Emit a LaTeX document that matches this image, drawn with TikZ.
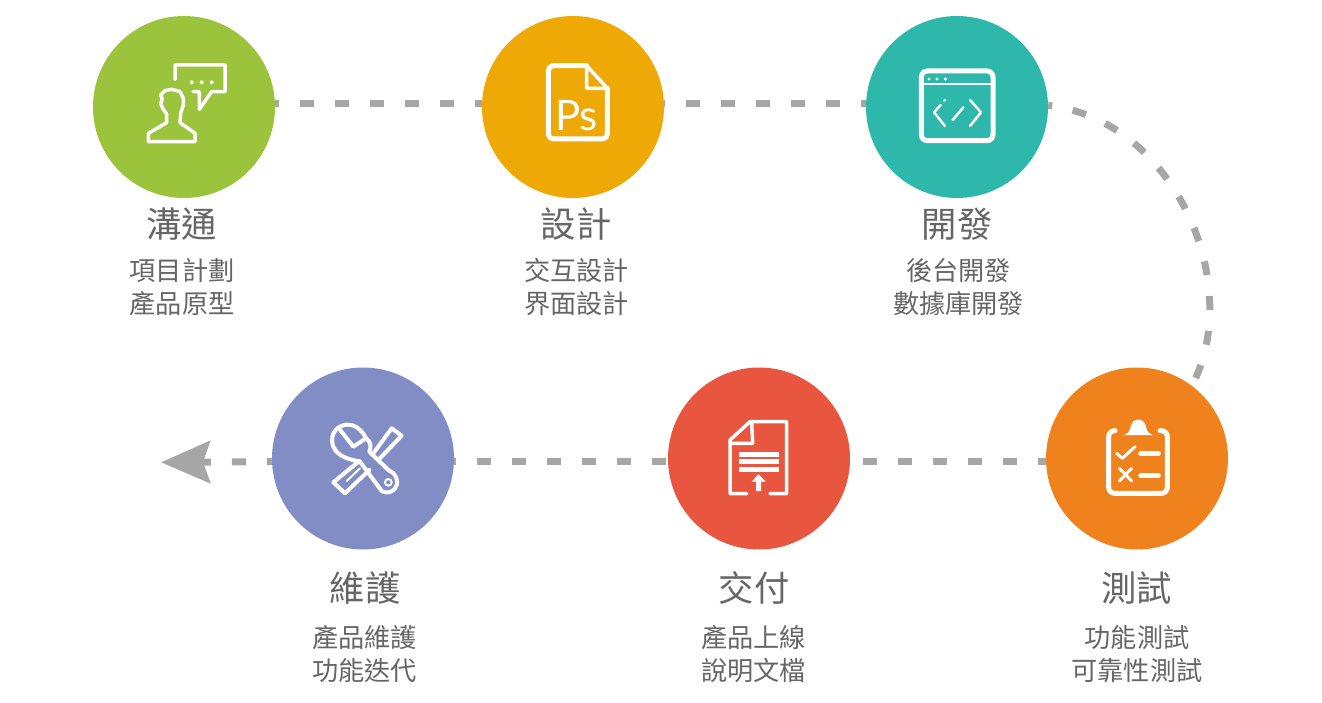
\documentclass[tikz,border=0pt]{standalone}
\usepackage{fontspec}
\usetikzlibrary{arrows.meta}
\setmainfont{Noto Sans CJK TC}
\newfontfamily\psfont{Lato}
\definecolor{talkgreen}{HTML}{9BC33C}
\definecolor{designyellow}{HTML}{EEA906}
\definecolor{developteal}{HTML}{2EB8AB}
\definecolor{testorange}{HTML}{F0821E}
\definecolor{deliverred}{HTML}{E9563F}
\definecolor{maintainblue}{HTML}{838DC5}
\definecolor{dashgray}{HTML}{A6A6A6}
\definecolor{textgray}{HTML}{666666}
\tikzset{
stepdot/.style={circle, minimum size=182pt, inner sep=0pt},
headtext/.style={text=textgray, font=\fontsize{35.3}{40}\selectfont},
subtext/.style={text=textgray, align=center, font=\fontsize{26.2}{33}\selectfont},
dashline/.style={draw=dashgray, line width=7pt, dash pattern=on 14pt off 21pt},
iconline/.style={draw=white, line width=3.5pt, line join=round, line cap=round},
% icons are written in units of a third of a pixel
talkicon/.pic={
  \draw[iconline] (135,88) -- (135,45) -- (285,45) -- (285,125) -- (245,125) -- (208,178) -- (208,125) -- (190,125);
  \fill[white] (185,97) circle [radius=6];
  \fill[white] (215,97) circle [radius=6];
  \fill[white] (245,97) circle [radius=6];
  \draw[iconline] (55,275) -- (55,250) -- (110,218) -- (110,192) -- (98,175) -- (92,160) -- (97,148) -- (92,135) -- (105,122) -- (125,118) -- (150,125) -- (160,145) -- (160,165) -- (152,190) -- (150,218) -- (195,250) -- (195,275) -- cycle;
  },
psicon/.pic={
  \draw[iconline, line width=5pt, rounded corners=5pt] (200,47) -- (85,47) -- (85,267) -- (262,267) -- (262,115);
  \draw[iconline, line width=3.5pt] (200,47) -- (262,115) -- (200,115) -- cycle;
  \node (pstext) at (170,196) {\psfont\fontsize{42}{42}\selectfont\color{white}Ps};
  },
codeicon/.pic={
  \draw[iconline, line width=5pt, rounded corners=6pt] (64,63) rectangle (279,272);
  \draw[iconline, line width=2pt] (64,102) -- (279,102);
  \fill[white] (87,87) circle [radius=5];
  \fill[white] (111,87) circle [radius=5];
  \fill[white] (136,87) circle [radius=5];
  \draw[iconline, line width=2.5pt] (122,165) -- (102,187) -- (135,228);
  \draw[iconline, line width=2.5pt] (134,150) -- (133,152);
  \draw[iconline, line width=2.5pt] (190,172) -- (158,210);
  \draw[iconline, line width=2.5pt] (210,150) -- (243,187) -- (210,228);
  },
checkicon/.pic={
  \draw[iconline, line width=5pt, rounded corners=6pt] (105,77) -- (86,77) -- (86,265) -- (262,265) -- (262,77) -- (240,77);
  \fill[white] (132,90) .. controls (150,85) and (150,70) .. (153,62) .. controls (158,38) and (192,38) .. (197,62) .. controls (200,70) and (200,85) .. (218,90) -- cycle;
  \draw[iconline, line width=3pt] (110,145) -- (127,160) -- (165,125);
  \draw[iconline, line width=3pt] (118,190) -- (155,228);
  \draw[iconline, line width=3pt] (155,190) -- (118,228);
  \draw[iconline, line width=5pt] (182,146) -- (235,146);
  \draw[iconline, line width=5pt] (182,212) -- (235,212);
  },
uploadicon/.pic={
  \draw[iconline] (125,266) -- (75,266) -- (75,105) -- (135,50) -- (245,50) -- (245,266) -- (195,266);
  \draw[iconline] (140,52) -- (143,115) -- (75,115);
  \fill[white] (103,140) rectangle (222,155);
  \fill[white] (103,163) rectangle (222,177);
  \fill[white] (103,186) rectangle (222,200);
  \fill[white] (160,208) -- (182,230) -- (168,230) -- (168,258) -- (153,258) -- (153,230) -- (140,230) -- cycle;
  },
toolicon/.pic={
  \draw[iconline, line width=4pt] (85,68) -- (130,125) -- (168,100) .. controls (150,62) and (115,48) .. (85,68);
  \draw[iconline, line width=4pt] (85,68) .. controls (60,85) and (60,125) .. (85,145) .. controls (105,162) and (130,165) .. (150,170) -- (215,258) .. controls (240,272) and (268,250) .. (260,222) .. controls (255,205) and (245,200) .. (235,195) -- (178,140) .. controls (185,125) and (182,110) .. (168,100);
  \draw[iconline, line width=2pt] (235,232) circle [radius=10];
  \draw[iconline, line width=4pt] (148,168) -- (70,232) -- (105,265) -- (178,195);
  \draw[iconline, line width=2pt] (110,228) -- (150,190);
  \draw[iconline, line width=4pt] (190,145) -- (245,70) -- (275,92) -- (205,165);
  }
}
\begin{document}
\begin{tikzpicture}[x=1pt, y=-1pt]
\useasboundingbox (0,0) rectangle (1322,703);
% steps
\node[stepdot, fill=talkgreen] (talk) at (184,107) {};
\node[stepdot, fill=designyellow] (design) at (573,107) {};
\node[stepdot, fill=developteal] (develop) at (957,107) {};
\node[stepdot, fill=testorange] (test) at (1137,458.5) {};
\node[stepdot, fill=deliverred] (deliver) at (759,458.5) {};
\node[stepdot, fill=maintainblue] (maintain) at (363,458.5) {};
\coordinate (arrowend) at (161,462.3);
% connectors
\draw[dashline, dash phase=10pt] (talk.2.3) -- (talk.2.3 -| design.west);
\draw[dashline, dash phase=13pt] (design.2.3) -- (design.2.3 -| develop.west);
\draw[dashline, dash phase=10pt] (develop.1) .. controls (1175,120) and (1245,285) .. (test.53);
\draw[dashline, dash phase=6pt] (test.182.4) -- (test.182.4 -| deliver.east);
\draw[dashline, dash phase=33pt] (deliver.182.4) -- (deliver.182.4 -| maintain.east);
\draw[dashline, dash phase=9pt, -{Stealth[length=49pt, width=42pt, inset=7pt]}] (maintain.182.4) -- (arrowend);
% icons
\pic[scale=1/3] at (130,50) {talkicon};
\pic[scale=1/3] at (520,50) {psicon};
\pic[scale=1/3] at (900,50) {codeicon};
\pic[scale=1/3] at (1080,405) {checkicon};
\pic[scale=1/3] at (705,405) {uploadicon};
\pic[scale=1/3] at (310,405) {toolicon};
% labels
\node[headtext] (talkhead) at (181.5,224) {溝通};
\node[headtext] (designhead) at (576,224) {設計};
\node[headtext] (develophead) at (957,224) {開發};
\node[headtext] (maintainhead) at (365,588) {維護};
\node[headtext] (deliverhead) at (754,588) {交付};
\node[headtext] (testhead) at (1136.5,588) {測試};
\node[subtext] (talksub) at (182,287) {項目計劃\\產品原型};
\node[subtext] (designsub) at (576.5,287) {交互設計\\界面設計};
\node[subtext] (developsub) at (958.5,287) {後台開發\\數據庫開發};
\node[subtext] (maintainsub) at (364.5,654) {產品維護\\功能迭代};
\node[subtext] (deliversub) at (753.5,654) {產品上線\\說明文檔};
\node[subtext] (testsub) at (1137,654) {功能測試\\可靠性測試};
\end{tikzpicture}
\end{document}
